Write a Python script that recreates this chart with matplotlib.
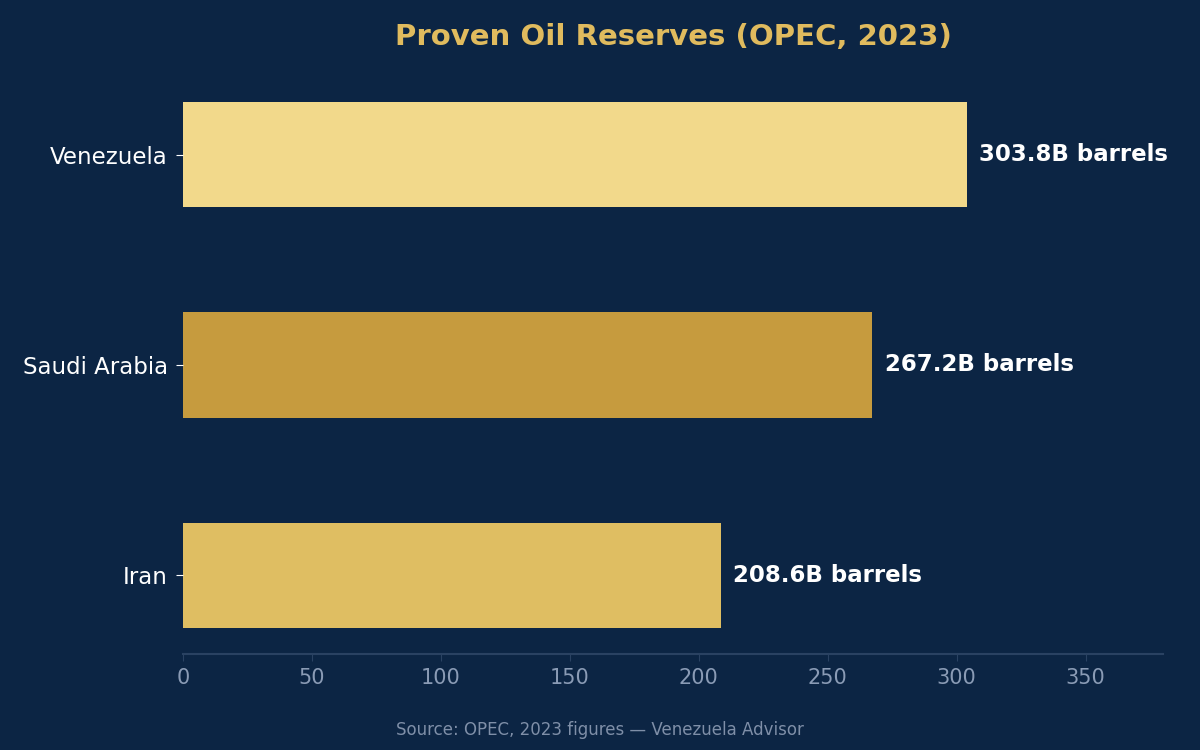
import matplotlib
matplotlib.use('Agg')
import matplotlib.pyplot as plt

countries = ['Iran', 'Saudi Arabia', 'Venezuela']
reserves = [208.6, 267.2, 303.8]
bar_colors = ['#dfbe62', '#c69b3e', '#f2d98b']

bg = '#0c2544'

fig = plt.figure(figsize=(12, 7.5), dpi=100, facecolor=bg)
ax = fig.add_axes([0.1525, 0.128, 0.8167, 0.7707])
ax.set_facecolor(bg)

bars = ax.barh(countries, reserves, height=0.5, color=bar_colors)

for rect, val in zip(bars, reserves):
    ax.annotate(f'{val}B barrels',
                xy=(rect.get_width(), rect.get_y() + rect.get_height() / 2),
                xytext=(9, 0), textcoords='offset points',
                ha='left', va='center', color='white',
                fontsize=16.5, fontweight='bold')

ax.set_xlim(0, 380)
ax.set_title('Proven Oil Reserves (OPEC, 2023)', color='#e0bb5e',
             fontsize=21, fontweight='bold', pad=22)

for side in ['top', 'right', 'left']:
    ax.spines[side].set_visible(False)
ax.spines['bottom'].set_color('#2a4262')
ax.spines['bottom'].set_linewidth(1.5)

ax.tick_params(axis='x', colors='#2a4262', labelcolor='#8a9bb5', labelsize=15, length=5, pad=5)
ax.tick_params(axis='y', colors='white', labelcolor='white', labelsize=16.5, length=5, pad=6)

fig.text(0.5, 0.027, 'Source: OPEC, 2023 figures \u2014 Venezuela Advisor',
         ha='center', va='center', color='#7f8fa8', fontsize=12)

fig.savefig('out.png', facecolor=bg)
